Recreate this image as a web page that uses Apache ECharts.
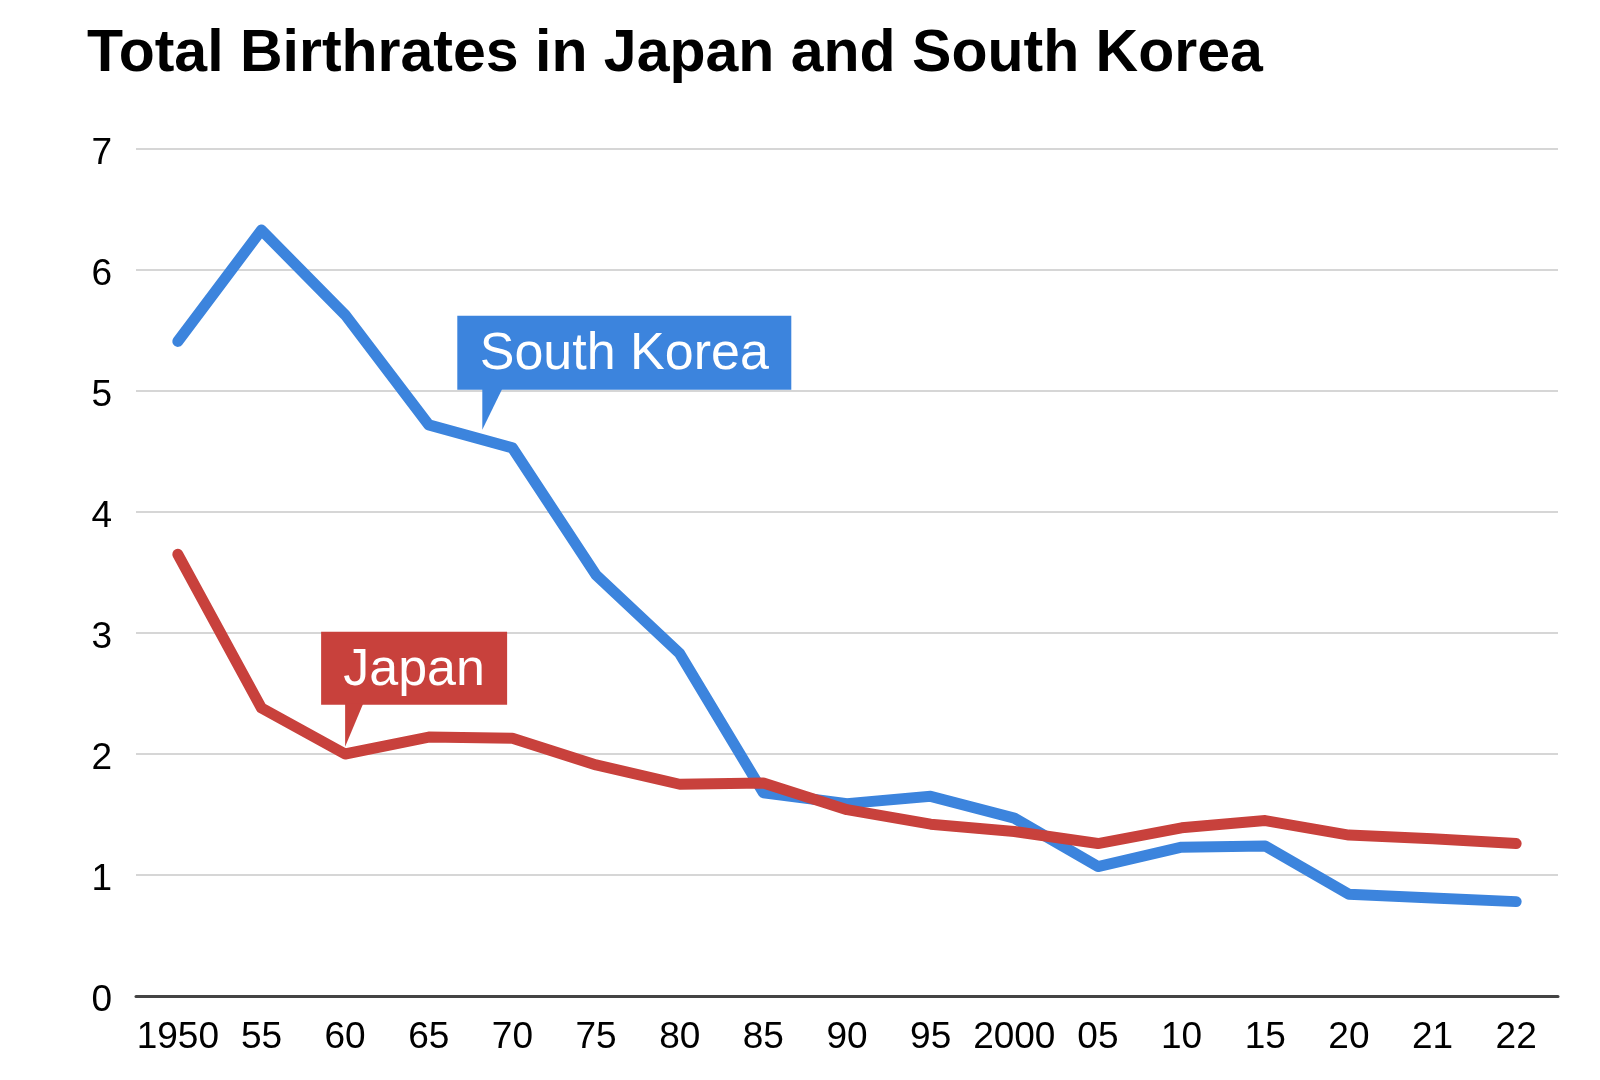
<!DOCTYPE html>
<html>
<head>
<meta charset="utf-8">
<title>Total Birthrates in Japan and South Korea</title>
<script src="https://cdn.jsdelivr.net/npm/echarts@6/dist/echarts.min.js"></script>
<style>
  html, body { margin: 0; padding: 0; background: #fff; }
  #chart { width: 1600px; height: 1080px; }
</style>
</head>
<body>
<div id="chart"></div>
<script>
// data
var years = ['1950', '55', '60', '65', '70', '75', '80', '85', '90', '95', '2000', '05', '10', '15', '20', '21', '22'];
var korea = [5.41, 6.33, 5.63, 4.72, 4.53, 3.48, 2.83, 1.68, 1.59, 1.65, 1.47, 1.07, 1.23, 1.24, 0.84, 0.81, 0.78];
var japan = [3.65, 2.38, 2.00, 2.14, 2.13, 1.91, 1.75, 1.76, 1.54, 1.42, 1.36, 1.26, 1.39, 1.45, 1.33, 1.30, 1.26];

var FONT = '"Liberation Sans", Arial, Helvetica, sans-serif';
var BLUE = '#3c84dd';
var RED = '#c8413c';

var chart = echarts.init(document.getElementById('chart'));

chart.setOption({
  animation: false,
  backgroundColor: '#fff',
  title: {
    text: 'Total Birthrates in Japan and South Korea',
    left: 87,
    top: 25,
    padding: 0,
    textStyle: { fontFamily: FONT, fontSize: 59, fontWeight: 'bold', color: '#000' }
  },
  grid: { left: 136, right: 42, top: 149, bottom: 84, containLabel: false },
  xAxis: {
    type: 'category',
    data: years,
    boundaryGap: true,
    axisLine: { lineStyle: { color: '#444', width: 3 } },
    axisTick: { alignWithLabel: true, inside: true, length: 22, lineStyle: { color: '#c4c4c4', width: 1.5 } },
    axisLabel: { interval: 0, margin: 23, color: '#000', fontFamily: FONT, fontSize: 37 },
    splitLine: { show: false }
  },
  yAxis: {
    type: 'value',
    min: 0,
    max: 7,
    interval: 1,
    axisLine: { show: false },
    axisTick: { show: false },
    axisLabel: {
      margin: 24,
      formatter: '{n|{value}}',
      rich: { n: { padding: [10, 0, 0, 0], color: '#000', fontFamily: FONT, fontSize: 37 } }
    },
    splitLine: { lineStyle: { color: '#d6d6d6', width: 2 } }
  },
  series: [
    {
      name: 'South Korea',
      type: 'line',
      data: korea,
      showSymbol: false,
      lineStyle: { color: BLUE, width: 11, cap: 'round', join: 'round' }
    },
    {
      name: 'Japan',
      type: 'line',
      data: japan,
      showSymbol: false,
      lineStyle: { color: RED, width: 11, cap: 'round', join: 'round' }
    }
  ]
});

// pixel point for a (possibly fractional) category index and a value
function at(idx, val) {
  var i0 = Math.floor(idx), f = idx - i0;
  var a = chart.convertToPixel({ gridIndex: 0 }, [i0, val]);
  var b = chart.convertToPixel({ gridIndex: 0 }, [Math.min(i0 + 1, years.length - 1), val]);
  return [a[0] + (b[0] - a[0]) * f, a[1]];
}

// callout box with a pointer down to the tip
function callout(text, color, tip, w, h, offLeft, stemW, stemH) {
  var left = tip[0] - offLeft;
  var bottom = tip[1] - stemH;
  return {
    type: 'group',
    children: [
      { type: 'rect', shape: { x: left, y: bottom - h, width: w, height: h }, style: { fill: color } },
      { type: 'polygon', shape: { points: [[tip[0], bottom - 1], [tip[0] + stemW, bottom - 1], tip] }, style: { fill: color } },
      {
        type: 'text',
        style: {
          text: text, x: left + w / 2, y: bottom - h / 2 + 2,
          align: 'center', verticalAlign: 'middle',
          fill: '#fff', fontFamily: FONT, fontSize: 52
        }
      }
    ]
  };
}

chart.setOption({
  graphic: [
    callout('South Korea', BLUE, at(3.64, 4.68), 334, 74, 25, 20, 40),
    callout('Japan', RED, at(2.0, 2.06), 186, 73, 24, 18, 42)
  ]
});
</script>
</body>
</html>
